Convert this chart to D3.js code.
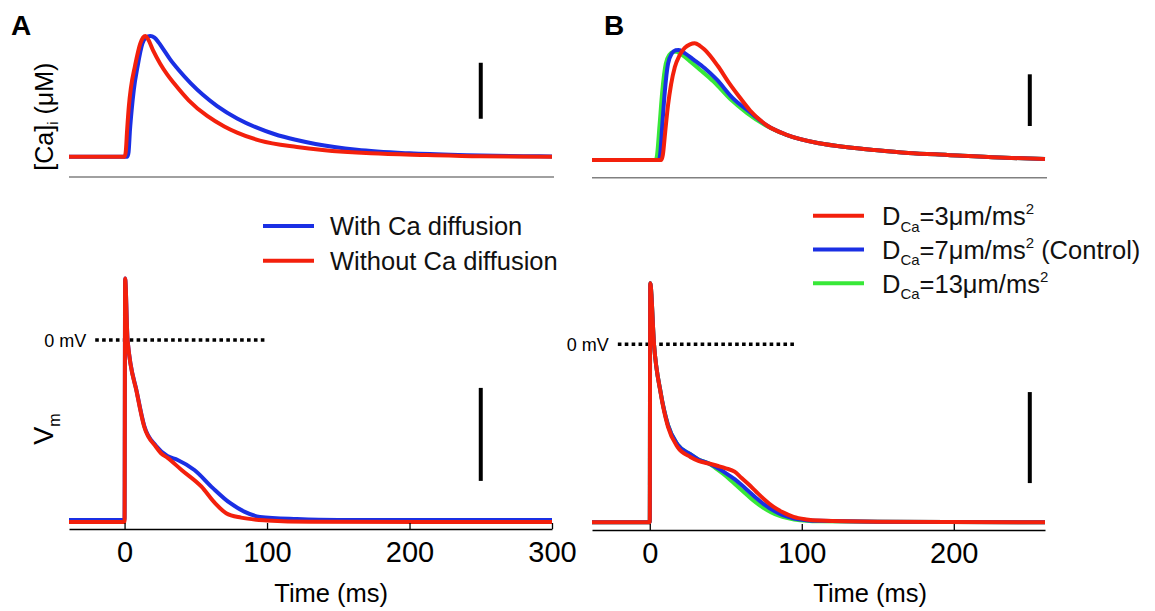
<!DOCTYPE html>
<html>
<head>
<meta charset="utf-8">
<script src="https://cdn.jsdelivr.net/npm/d3@7"></script>
<style>
  body { margin: 0; background: #fff; }
  svg { display: block; font-family: "Liberation Sans", Arial, sans-serif; }
</style>
</head>
<body>
<div id="chart"></div>
<script>
var width = 1155;
var height = 611;

// colours used for the traces
var RED = "#f3200c", BLUE = "#1a2fe4", GREEN = "#38e838";

// ---- data: [time (ms), value] ----
// panel A, [Ca]i (uM)
var caA_with = [[-39,0.181],[2,0.181],[2.8,0.22],[3.8,0.42],[5,0.6],[6.5,0.78],[9.1,0.985],[12.5,1.19],[15,1.245],
  [18,1.259],[21,1.245],[24,1.2],[27,1.145],[32,1.05],[38,0.955],[46.5,0.836],[55,0.734],[65,0.633],[79,0.523],
  [92,0.445],[105,0.384],[120,0.332],[134,0.295],[163,0.243],[200,0.211],[240,0.195],[280,0.186],[300,0.183]];
var caA_without = [[-39,0.181],[0,0.181],[0.8,0.22],[1.8,0.42],[3,0.63],[4.5,0.8],[7.3,0.99],[11,1.19],[13,1.245],
  [14.6,1.259],[16.5,1.23],[20,1.13],[25,1.012],[30,0.914],[35,0.832],[45,0.685],[58,0.545],[70,0.451],[79,0.396],
  [95,0.325],[121,0.268],[139,0.241],[173,0.211],[212,0.196],[250,0.185],[300,0.181]];
// panel A, Vm (mV)
var vmA_with = [[-39,-77.4],[0,-77.4],[0.4,26.5],[2.1,0],[8.7,-22.6],[13.8,-36.9],[22,-45.5],[30,-49.9],[37.3,-51.6],
  [49,-55.9],[62,-63.7],[74,-70.1],[84,-73.8],[95,-76.1],[121,-77.0],[150,-77.4],[300,-77.4]];
var vmA_without = [[-39,-78.3],[0,-78.3],[0.4,26.5],[2.1,0],[8.7,-22.9],[13.8,-37.3],[22,-45.9],[25.6,-48.7],[30,-50.6],
  [40,-55.9],[54,-63.1],[63.5,-70.2],[71.3,-74.5],[81.8,-76.4],[100,-77.6],[130,-78.2],[300,-78.3]];

// panel B, [Ca]i (uM)
var caB_d3 = [[-38,0.171],[7.7,0.171],[8.6,0.22],[10.2,0.45],[12,0.7],[14,0.9],[16.5,1.07],[19.5,1.18],[23,1.255],
  [26.5,1.29],[29.6,1.30],[33,1.275],[36,1.24],[44.8,1.08],[52,0.92],[58,0.80],[66,0.65],[77.6,0.50],[90,0.415],
  [111.5,0.333],[130,0.295],[148,0.268],[170,0.24],[196,0.22],[230,0.195],[260,0.181]];
var caB_d7 = [[-38,0.171],[6,0.171],[6.8,0.22],[8.2,0.5],[9.9,0.832],[12,1.1],[14.5,1.2],[17,1.232],[19,1.235],
  [23,1.205],[29,1.14],[36,1.06],[44,0.95],[54.6,0.77],[65.8,0.635],[77.6,0.5],[90,0.415],[111.5,0.333],
  [130,0.295],[148,0.268],[170,0.24],[196,0.22],[230,0.195],[260,0.181]];
var caB_d13 = [[-38,0.171],[4,0.171],[4.8,0.22],[6.4,0.5],[8.2,0.832],[10.5,1.1],[13,1.19],[15.5,1.217],[17.5,1.219],
  [21,1.19],[27,1.12],[33,1.045],[42,0.93],[53,0.76],[64,0.625],[77.6,0.495],[90,0.413],[111.5,0.333],
  [130,0.295],[148,0.268],[170,0.24],[196,0.22],[230,0.195],[260,0.181]];
// panel B, Vm (mV)
var vmB_d3 = [[-38,-78.2],[0,-78.2],[0.3,26.8],[2.8,0],[7.2,-21.6],[12,-36.3],[18.2,-45.1],[26.7,-49.5],[32,-51.2],
  [38.8,-52.4],[45,-53.5],[50,-54.5],[55.8,-56],[60,-58.5],[65,-61.5],[70,-64.8],[75,-68],[81.2,-71.4],[88,-74],
  [94.6,-75.9],[103,-77],[111.6,-77.5],[150,-78],[260,-78.2]];
var vmB_d7 = [[-38,-78.2],[0,-78.2],[0.3,26.8],[2.8,0],[7.2,-21.3],[12,-35.5],[18.2,-44],[26.7,-48.3],[32,-50.6],
  [38.8,-52.4],[44,-54.2],[50,-56.6],[56,-59.4],[61,-62.2],[65,-64.6],[70,-67.6],[75,-70.3],[80,-72.5],[85,-74.3],
  [90,-75.6],[95,-76.6],[103,-77.3],[111.6,-77.6],[150,-78],[260,-78.2]];
var vmB_d13 = [[-38,-78.2],[0,-78.2],[0.3,26.8],[2.8,0],[7.2,-21.3],[12,-35.5],[18.2,-44],[26.7,-48.3],[32,-50.6],
  [38.8,-52.4],[43,-54.3],[48,-56.8],[53,-59.6],[58,-62.6],[62,-65],[66,-67.4],[70,-69.6],[75,-72],[80,-73.9],
  [85,-75.3],[90,-76.3],[95,-77],[111.6,-77.8],[150,-78],[260,-78.2]];

// ticks, scale bars and reference lines
var ticksA = [0, 100, 200, 300];
var ticksB = [0, 100, 200];
var caBarA = [0.52, 1.02];   // 0.5 uM
var caBarB = [0.5, 1.0];
var vmBarA = [-60.6, -20.6]; // 40 mV
var vmBarB = [-61, -21];
var zeroLineA = [-20.6, 100];
var zeroLineB = [-21, 97];

var legendA = [{label: "With Ca diffusion", color: BLUE}, {label: "Without Ca diffusion", color: RED}];
var legendB = [{d: "3", extra: "", color: RED}, {d: "7", extra: " (Control)", color: BLUE}, {d: "13", extra: "", color: GREEN}];

window.onload = start;

function start() {
  var svg = d3.select("#chart").append("svg")
    .attr("width", width)
    .attr("height", height);

  // scales
  var xA = d3.scaleLinear().domain([-39, 300]).range([69, 552]);
  var xB = d3.scaleLinear().domain([-38, 260]).range([592, 1045]);
  var caYA = d3.scaleLinear().domain([0, 1]).range([177, 65]);
  var caYB = d3.scaleLinear().domain([0, 1]).range([177.7, 74.3]);
  var vmYA = d3.scaleLinear().domain([0, -80]).range([340, 526]);
  var vmYB = d3.scaleLinear().domain([0, -80]).range([344.3, 526.3]);

  function trace(data, x, y, color) {
    var line = d3.line()
      .x(function (d) { return x(d[0]); })
      .y(function (d) { return y(d[1]); })
      .curve(d3.curveMonotoneX);
    svg.append("path")
      .datum(data)
      .attr("d", line)
      .attr("fill", "none")
      .attr("stroke", color)
      .attr("stroke-width", 4)
      .attr("stroke-linejoin", "round");
  }

  function bar(x, y, t, range) {
    svg.append("line")
      .attr("x1", x(t)).attr("x2", x(t))
      .attr("y1", y(range[0])).attr("y2", y(range[1]))
      .attr("stroke", "#000")
      .attr("stroke-width", 4);
  }

  function grayLine(x, y) {
    svg.append("line")
      .attr("x1", x.range()[0]).attr("x2", x.range()[1] + 2)
      .attr("y1", y(0)).attr("y2", y(0))
      .attr("stroke", "#808080")
      .attr("stroke-width", 1.5);
  }

  function zeroLine(x, y, span) {
    svg.append("line")
      .attr("x1", x(span[0])).attr("x2", x(span[1]))
      .attr("y1", y(0)).attr("y2", y(0))
      .attr("stroke", "#000")
      .attr("stroke-width", 3.6)
      .attr("stroke-dasharray", "3.6,3.3");
    svg.append("text")
      .attr("x", x(span[0]) - 9)
      .attr("y", y(0) + 7)
      .attr("text-anchor", "end")
      .style("font-size", "18px")
      .text("0 mV");
  }

  function xAxis(x, ticks, yPos) {
    var g = svg.append("g")
      .attr("transform", "translate(0," + yPos + ")")
      .call(d3.axisBottom(x).tickValues(ticks).tickSizeInner(-6).tickSizeOuter(0).tickPadding(12));
    g.select(".domain").attr("stroke-width", 1.5);
    g.selectAll(".tick line").attr("stroke-width", 1.3);
    g.selectAll(".tick text")
      .style("font-size", "29px")
      .style("font-family", "'Liberation Sans', Arial, sans-serif")
      .attr("fill", "#000");
    svg.append("text")
      .attr("x", x(145))
      .attr("y", 601.5)
      .attr("text-anchor", "middle")
      .style("font-size", "25.5px")
      .text("Time (ms)");
  }

  // ---- panel A ----
  grayLine(xA, caYA);
  trace(caA_with, xA, caYA, BLUE);
  trace(caA_without, xA, caYA, RED);
  bar(xA, caYA, 250, caBarA);

  zeroLine(xA, vmYA, zeroLineA);
  trace(vmA_with, xA, vmYA, BLUE);
  trace(vmA_without, xA, vmYA, RED);
  bar(xA, vmYA, 250, vmBarA);
  xAxis(xA, ticksA, 529);

  // ---- panel B ----
  grayLine(xB, caYB);
  trace(caB_d13, xB, caYB, GREEN);
  trace(caB_d7, xB, caYB, BLUE);
  trace(caB_d3, xB, caYB, RED);
  bar(xB, caYB, 250, caBarB);

  zeroLine(xB, vmYB, zeroLineB);
  trace(vmB_d13, xB, vmYB, GREEN);
  trace(vmB_d7, xB, vmYB, BLUE);
  trace(vmB_d3, xB, vmYB, RED);
  bar(xB, vmYB, 250, vmBarB);
  xAxis(xB, ticksB, 530);

  // panel letters
  svg.append("text").attr("x", 11).attr("y", 35)
    .style("font-size", "28px").style("font-weight", "bold").text("A");
  svg.append("text").attr("x", 604).attr("y", 35)
    .style("font-size", "28px").style("font-weight", "bold").text("B");

  // y labels
  var caLabel = svg.append("text")
    .attr("transform", "translate(53,116.7) rotate(-90)")
    .attr("text-anchor", "middle")
    .style("font-size", "25px");
  caLabel.append("tspan").text("[Ca]");
  caLabel.append("tspan").attr("dy", 5).style("font-size", "15px").text("i");
  caLabel.append("tspan").attr("dy", -5).text(" (\u03bcM)");

  var vmLabel = svg.append("text")
    .attr("transform", "translate(53.3,429) rotate(-90)")
    .attr("text-anchor", "middle")
    .style("font-size", "27px");
  vmLabel.append("tspan").text("V");
  vmLabel.append("tspan").attr("dy", 6.5).style("font-size", "16px").text("m");

  // legend A
  legendA.forEach(function (d, i) {
    var yy = 226 + i * 34.7;
    svg.append("line")
      .attr("x1", 263).attr("x2", 314).attr("y1", yy).attr("y2", yy)
      .attr("stroke", d.color).attr("stroke-width", 4);
    svg.append("text")
      .attr("x", 330).attr("y", yy + 9)
      .style("font-size", "25.5px")
      .attr("fill", "#111")
      .text(d.label);
  });

  // legend B
  legendB.forEach(function (d, i) {
    var yy = 215.7 + i * 33.8;
    svg.append("line")
      .attr("x1", 813).attr("x2", 864).attr("y1", yy).attr("y2", yy)
      .attr("stroke", d.color).attr("stroke-width", 4);
    var t = svg.append("text")
      .attr("x", 882).attr("y", yy + 9.3)
      .style("font-size", "25.5px")
      .attr("fill", "#111");
    t.append("tspan").text("D");
    t.append("tspan").attr("dy", 6.5).style("font-size", "15px").text("Ca");
    t.append("tspan").attr("dy", -6.5).text("=" + d.d + "\u03bcm/ms");
    t.append("tspan").attr("dy", -11).style("font-size", "15px").text("2");
    t.append("tspan").attr("dy", 11).text(d.extra);
  });
}
</script>
</body>
</html>
